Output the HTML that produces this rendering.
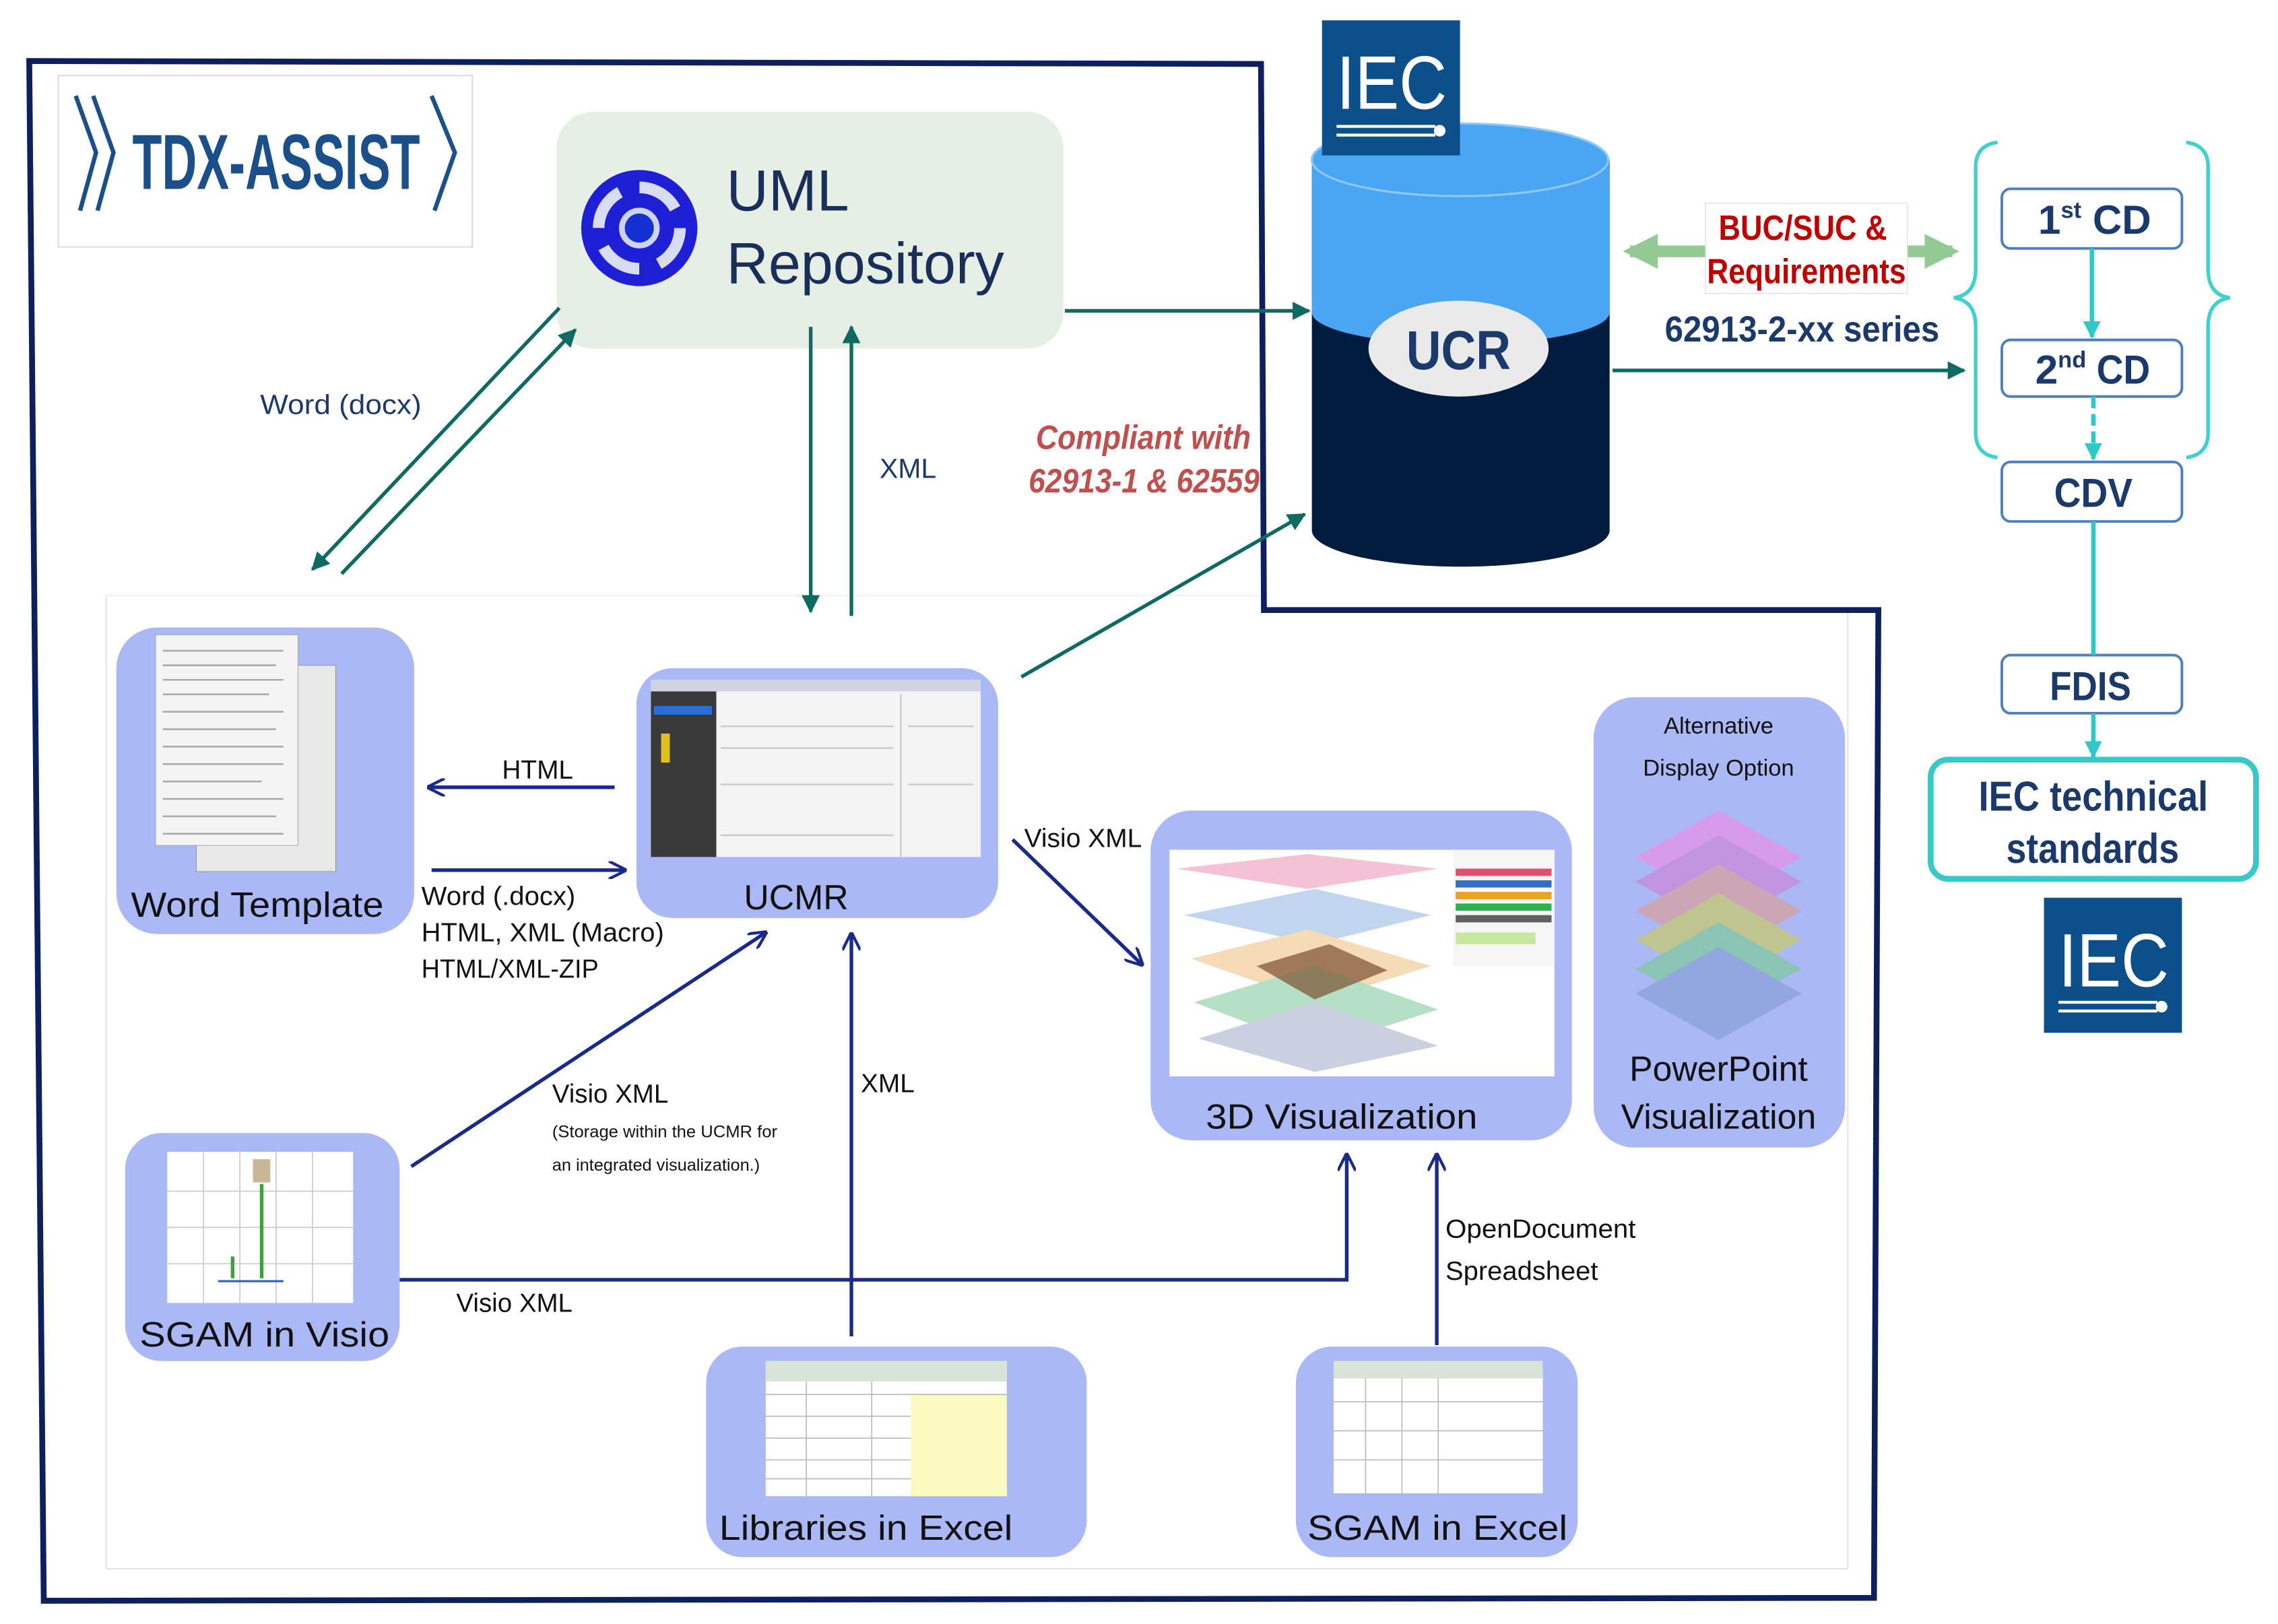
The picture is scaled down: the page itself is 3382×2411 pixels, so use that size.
<!DOCTYPE html>
<html><head><meta charset="utf-8">
<style>
html,body{margin:0;padding:0;background:#fff;}
svg{display:block;}
text{font-family:"Liberation Sans",Arial,sans-serif;}
.n{font-family:"Liberation Sans Narrow","Liberation Sans",sans-serif;}
</style></head>
<body>
<svg width="3382" height="2411" viewBox="0 0 1568 1118" xmlns="http://www.w3.org/2000/svg">
<defs>
<marker id="at" viewBox="0 0 10 10" refX="9" refY="5" markerWidth="5" markerHeight="5" orient="auto"><path d="M0,0L10,5L0,10z" fill="#0f6a62"/></marker>
<marker id="an" viewBox="0 0 10 10" refX="9" refY="5" markerWidth="5" markerHeight="5" orient="auto"><path d="M0,0L10,5L0,10" fill="none" stroke="#1a2a8a" stroke-width="1.6"/></marker>
<marker id="ac" viewBox="0 0 10 10" refX="9" refY="5" markerWidth="4" markerHeight="4" orient="auto"><path d="M0,0L10,5L0,10z" fill="#2ec8c8"/></marker>
<marker id="ag" viewBox="0 0 10 10" refX="8" refY="5" markerWidth="3" markerHeight="3" orient="auto-start-reverse"><path d="M0,0L10,5L0,10z" fill="#93c993"/></marker>
</defs>

<!-- faint inner frames -->
<rect x="40" y="52" width="285" height="118" fill="none" stroke="#ddd" stroke-width="1"/>
<line x1="73" y1="410" x2="73" y2="1080" stroke="#e4e4e4"/>
<line x1="73" y1="1080" x2="1272" y2="1080" stroke="#e4e4e4"/>
<line x1="1272" y1="420" x2="1272" y2="1080" stroke="#e4e4e4"/>
<line x1="73" y1="410" x2="870" y2="410" stroke="#f0f0f0"/>

<!-- outer border -->
<path d="M20,42 L868,44 L870,420 L1293,420 L1290,1100 L30,1102 Z" fill="none" stroke="#0d1f5c" stroke-width="4"/>

<!-- TDX logo -->
<g fill="none" stroke="#1b4f8a" stroke-width="3">
<path d="M52,66 L66,105 L55,145"/><path d="M64,66 L78,105 L67,145"/><path d="M297,66 L313,105 L299,145"/>
</g>
<text x="91" y="130" class="n" font-size="54" font-weight="bold" fill="#1b4f8a" textLength="198" lengthAdjust="spacingAndGlyphs">TDX-ASSIST</text>

<!-- UML repository -->
<rect x="383" y="77" width="349" height="163" rx="25" fill="#e6efe6"/>
<circle cx="440" cy="157" r="40" fill="#1f1fd6"/>
<circle cx="440" cy="157" r="28" fill="none" stroke="#d8dcef" stroke-width="8" stroke-dasharray="30 14"/>
<circle cx="440" cy="157" r="12" fill="#1530d0" stroke="#cfd4ee" stroke-width="4"/>
<text x="500" y="145" font-size="40" fill="#1a2e5a">UML</text>
<text x="500" y="195" font-size="40" fill="#1a2e5a">Repository</text>

<!-- cylinder -->
<path d="M903,110 L903,365 A102,25 0 0 0 1108,365 L1108,110 Z" fill="#021c3f"/>
<path d="M903,110 L903,215 A102,22 0 0 0 1108,215 L1108,110 Z" fill="#4aa6f2"/>
<ellipse cx="1005" cy="110" rx="102" ry="25" fill="#4aa6f2" stroke="#8cc8f8" stroke-width="1.5"/>
<ellipse cx="1004" cy="240" rx="62" ry="33" fill="#eaeaea"/>
<text x="968" y="254" class="n" font-size="38" font-weight="bold" fill="#1b3a6b" textLength="72" lengthAdjust="spacingAndGlyphs">UCR</text>

<!-- IEC logos -->
<rect x="910" y="14" width="95" height="93" fill="#0d4f8b"/>
<text x="920" y="75" class="n" font-size="52" fill="#fff" textLength="76" lengthAdjust="spacingAndGlyphs">IEC</text>
<line x1="920" y1="87" x2="988" y2="87" stroke="#fff" stroke-width="2"/><line x1="920" y1="93" x2="988" y2="93" stroke="#fff" stroke-width="2"/><circle cx="991" cy="90" r="4" fill="#fff"/>
<rect x="1407" y="618" width="95" height="93" fill="#0d4f8b"/>
<text x="1417" y="679" class="n" font-size="52" fill="#fff" textLength="76" lengthAdjust="spacingAndGlyphs">IEC</text>
<line x1="1417" y1="690" x2="1485" y2="690" stroke="#fff" stroke-width="2"/><line x1="1417" y1="696" x2="1485" y2="696" stroke="#fff" stroke-width="2"/><circle cx="1488" cy="693" r="4" fill="#fff"/>

<!-- green bidirectional -->
<line x1="1122" y1="173" x2="1344" y2="173" stroke="#93c993" stroke-width="8" marker-end="url(#ag)" marker-start="url(#ag)" />
<rect x="1174" y="140" width="139" height="62" fill="#fff" stroke="#e0e0e0" stroke-width="0.6"/>
<text x="1183" y="165" class="n" font-size="24" font-weight="bold" fill="#c00000" textLength="116" lengthAdjust="spacingAndGlyphs">BUC/SUC &amp;</text>
<text x="1175" y="195" class="n" font-size="24" font-weight="bold" fill="#c00000" textLength="137" lengthAdjust="spacingAndGlyphs">Requirements</text>
<text x="1146" y="235" class="n" font-size="25" font-weight="bold" fill="#1b3a6b" textLength="189" lengthAdjust="spacingAndGlyphs">62913-2-xx series</text>
<line x1="1110" y1="255" x2="1352" y2="255" stroke="#0f6a62" stroke-width="2.5" marker-end="url(#at)"/>
<line x1="733" y1="214" x2="901" y2="214" stroke="#0f6a62" stroke-width="2.5" marker-end="url(#at)"/>

<!-- braces -->
<g fill="none" stroke="#40d0d0" stroke-width="2.5">
<path d="M1375,98 Q1360,100 1360,115 L1360,185 Q1360,203 1345,205 Q1360,207 1360,225 L1360,298 Q1360,313 1375,315"/>
<path d="M1505,98 Q1520,100 1520,115 L1520,185 Q1520,203 1535,205 Q1520,207 1520,225 L1520,298 Q1520,313 1505,315"/>
</g>
<g fill="#fff" stroke="#4f7fbf" stroke-width="1.8">
<rect x="1378" y="130" width="124" height="41" rx="6"/>
<rect x="1378" y="234" width="124" height="39" rx="6"/>
<rect x="1378" y="318" width="124" height="41" rx="6"/>
<rect x="1378" y="451" width="124" height="40" rx="6"/>
</g>
<g class="n" font-size="28" font-weight="bold" fill="#1b3a6b">
<text x="1403" y="161">1<tspan font-size="16" dy="-11">st</tspan><tspan dy="11" textLength="48" lengthAdjust="spacingAndGlyphs"> CD</tspan></text>
<text x="1401" y="264">2<tspan font-size="16" dy="-11">nd</tspan><tspan dy="11" textLength="44" lengthAdjust="spacingAndGlyphs"> CD</tspan></text>
<text x="1414" y="349" textLength="54" lengthAdjust="spacingAndGlyphs">CDV</text>
<text x="1411" y="482" textLength="56" lengthAdjust="spacingAndGlyphs">FDIS</text>
</g>
<line x1="1440" y1="171" x2="1440" y2="232" stroke="#2ec8c8" stroke-width="3" marker-end="url(#ac)"/>
<line x1="1441" y1="273" x2="1441" y2="316" stroke="#2ec8c8" stroke-width="3" stroke-dasharray="8 4" marker-end="url(#ac)"/>
<line x1="1441" y1="359" x2="1441" y2="451" stroke="#2ec8c8" stroke-width="3"/>
<line x1="1441" y1="491" x2="1441" y2="521" stroke="#2ec8c8" stroke-width="3" marker-end="url(#ac)"/>
<rect x="1329" y="523" width="224" height="82" rx="12" fill="#fff" stroke="#38c8c8" stroke-width="4"/>
<text x="1362" y="558" class="n" font-size="29" font-weight="bold" fill="#1b3a6b" textLength="158" lengthAdjust="spacingAndGlyphs">IEC technical</text>
<text x="1381" y="594" class="n" font-size="29" font-weight="bold" fill="#1b3a6b" textLength="119" lengthAdjust="spacingAndGlyphs">standards</text>

<!-- Word docx arrows -->
<line x1="385" y1="212" x2="215" y2="392" stroke="#0f6a62" stroke-width="2.5" marker-end="url(#at)"/>
<line x1="235" y1="395" x2="396" y2="227" stroke="#0f6a62" stroke-width="2.5" marker-end="url(#at)"/>
<text x="179" y="285" font-size="19" fill="#1b3a6b" textLength="111" lengthAdjust="spacingAndGlyphs">Word (docx)</text>
<line x1="558" y1="225" x2="558" y2="421" stroke="#0f6a62" stroke-width="2.5" marker-end="url(#at)"/>
<line x1="586" y1="424" x2="586" y2="225" stroke="#0f6a62" stroke-width="2.5" marker-end="url(#at)"/>
<text x="625" y="329" text-anchor="middle" font-size="19" fill="#1b3a6b">XML</text>
<text x="713" y="309" class="n" font-size="23" font-weight="bold" font-style="italic" fill="#c0504d" textLength="148" lengthAdjust="spacingAndGlyphs">Compliant with</text>
<text x="708" y="339" class="n" font-size="23" font-weight="bold" font-style="italic" fill="#c0504d" textLength="159" lengthAdjust="spacingAndGlyphs">62913-1 &amp; 62559</text>
<line x1="703" y1="466" x2="898" y2="354" stroke="#0f6a62" stroke-width="2.5" marker-end="url(#at)"/>

<!-- Word Template -->
<rect x="80" y="432" width="205" height="211" rx="28" fill="#aab8f5"/>
<rect x="135" y="458" width="96" height="142" fill="#e8e8e8" stroke="#999" stroke-width="0.5"/>
<rect x="107" y="437" width="98" height="145" fill="#f4f4f4" stroke="#aaa" stroke-width="0.5"/>
<g stroke="#aaa" stroke-width="1.2"><line x1="112" y1="448" x2="195" y2="448"/><line x1="112" y1="458" x2="190" y2="458"/><line x1="112" y1="468" x2="195" y2="468"/><line x1="112" y1="478" x2="185" y2="478"/><line x1="112" y1="490" x2="195" y2="490"/><line x1="112" y1="502" x2="190" y2="502"/><line x1="112" y1="514" x2="195" y2="514"/><line x1="112" y1="526" x2="195" y2="526"/><line x1="112" y1="538" x2="180" y2="538"/><line x1="112" y1="550" x2="195" y2="550"/><line x1="112" y1="562" x2="190" y2="562"/><line x1="112" y1="574" x2="195" y2="574"/></g>
<text x="90" y="631" font-size="24" fill="#111" textLength="174" lengthAdjust="spacingAndGlyphs">Word Template</text>

<!-- UCMR -->
<rect x="438" y="460" width="249" height="172" rx="25" fill="#aab8f5"/>
<rect x="448" y="468" width="227" height="122" fill="#f3f3f3"/>
<rect x="448" y="468" width="227" height="8" fill="#d0d4e0"/>
<rect x="448" y="476" width="45" height="114" fill="#3a3a3a"/>
<rect x="450" y="486" width="40" height="6" fill="#2a6fd6"/>
<rect x="455" y="505" width="6" height="20" fill="#e0c020"/>
<g stroke="#c8c8c8" stroke-width="1"><line x1="496" y1="500" x2="615" y2="500"/><line x1="496" y1="515" x2="615" y2="515"/><line x1="496" y1="540" x2="615" y2="540"/><line x1="496" y1="575" x2="615" y2="575"/><line x1="620" y1="478" x2="620" y2="590"/><line x1="625" y1="500" x2="670" y2="500"/><line x1="625" y1="540" x2="670" y2="540"/></g>
<text x="548" y="626" text-anchor="middle" font-size="24" fill="#111">UCMR</text>

<line x1="423" y1="542" x2="295" y2="542" stroke="#1a2a8a" stroke-width="2.5" marker-end="url(#an)"/>
<text x="370" y="536" text-anchor="middle" font-size="18" fill="#111">HTML</text>
<line x1="297" y1="599" x2="430" y2="599" stroke="#1a2a8a" stroke-width="2.5" marker-end="url(#an)"/>
<text x="290" y="623" font-size="18" fill="#111" textLength="106" lengthAdjust="spacingAndGlyphs">Word (.docx)</text>
<text x="290" y="648" font-size="18" fill="#111" textLength="167" lengthAdjust="spacingAndGlyphs">HTML, XML (Macro)</text>
<text x="290" y="673" font-size="18" fill="#111" textLength="122" lengthAdjust="spacingAndGlyphs">HTML/XML-ZIP</text>

<!-- 3D visualization -->
<rect x="792" y="558" width="290" height="227" rx="28" fill="#aab8f5"/>
<rect x="805" y="585" width="265" height="156" fill="#fff"/>
<g opacity="0.65">
<polygon points="810,598 900,588 990,598 900,612" fill="#f0a0c0"/>
<polygon points="815,630 905,612 985,630 905,650" fill="#a0c0e8"/>
<polygon points="820,660 900,640 985,665 905,690" fill="#f0c890"/>
<polygon points="822,690 905,665 990,695 905,722" fill="#90d0a8"/>
<polygon points="825,715 905,690 990,720 905,738" fill="#b0b8d0"/>
</g>
<polygon points="865,665 915,650 955,668 905,688" fill="#7a5030" opacity="0.7"/>
<rect x="1000" y="585" width="70" height="80" fill="#f6f6f6"/>
<rect x="1002" y="598" width="66" height="5" fill="#e05070"/><rect x="1002" y="606" width="66" height="5" fill="#3070c0"/><rect x="1002" y="614" width="66" height="5" fill="#f0a020"/><rect x="1002" y="622" width="66" height="5" fill="#30b050"/><rect x="1002" y="630" width="66" height="5" fill="#606060"/><rect x="1002" y="642" width="55" height="8" fill="#c8e8a0"/>
<text x="830" y="777" font-size="24" fill="#111" textLength="187" lengthAdjust="spacingAndGlyphs">3D Visualization</text>

<!-- PowerPoint -->
<rect x="1097" y="480" width="173" height="310" rx="28" fill="#aab8f5"/>
<text x="1183" y="505" text-anchor="middle" font-size="16" fill="#111">Alternative</text>
<text x="1183" y="534" text-anchor="middle" font-size="16" fill="#111">Display Option</text>
<g opacity="0.75">
<polygon points="1183,558 1240,590 1183,622 1126,590" fill="#e890e8"/>
<polygon points="1183,575 1240,607 1183,639 1126,607" fill="#c888d8"/>
<polygon points="1183,595 1240,627 1183,659 1126,627" fill="#d8a0a0"/>
<polygon points="1183,615 1240,647 1183,679 1126,647" fill="#c8c870"/>
<polygon points="1183,635 1240,667 1183,699 1126,667" fill="#80c8a0"/>
<polygon points="1183,652 1240,684 1183,716 1126,684" fill="#8aa0d8"/>
</g>
<text x="1183" y="744" text-anchor="middle" font-size="24" fill="#111">PowerPoint</text>
<text x="1183" y="777" text-anchor="middle" font-size="24" fill="#111">Visualization</text>

<line x1="697" y1="578" x2="786" y2="664" stroke="#1a2a8a" stroke-width="2.5" marker-end="url(#an)"/>
<text x="705" y="583" font-size="18" fill="#111" textLength="81" lengthAdjust="spacingAndGlyphs">Visio XML</text>

<!-- SGAM in Visio -->
<rect x="86" y="780" width="189" height="157" rx="25" fill="#aab8f5"/>
<rect x="115" y="793" width="128" height="104" fill="#fff"/>
<g stroke="#ccc" stroke-width="0.8"><line x1="140" y1="793" x2="140" y2="897"/><line x1="165" y1="793" x2="165" y2="897"/><line x1="190" y1="793" x2="190" y2="897"/><line x1="215" y1="793" x2="215" y2="897"/><line x1="115" y1="820" x2="243" y2="820"/><line x1="115" y1="845" x2="243" y2="845"/><line x1="115" y1="870" x2="243" y2="870"/></g>
<rect x="174" y="798" width="12" height="16" fill="#c8b898"/>
<line x1="180" y1="815" x2="180" y2="880" stroke="#40a040" stroke-width="2.5"/>
<line x1="160" y1="865" x2="160" y2="880" stroke="#40a040" stroke-width="2.5"/>
<line x1="150" y1="882" x2="195" y2="882" stroke="#3060c0" stroke-width="1.5"/>
<text x="96" y="927" font-size="24" fill="#111" textLength="172" lengthAdjust="spacingAndGlyphs">SGAM  in Visio</text>

<line x1="283" y1="803" x2="527" y2="642" stroke="#1a2a8a" stroke-width="2.5" marker-end="url(#an)"/>
<text x="380" y="759" font-size="18" fill="#111" textLength="80" lengthAdjust="spacingAndGlyphs">Visio XML</text>
<text x="380" y="783" font-size="11.5" fill="#111" textLength="155" lengthAdjust="spacingAndGlyphs">(Storage within  the UCMR  for</text>
<text x="380" y="806" font-size="11.5" fill="#111" textLength="143" lengthAdjust="spacingAndGlyphs">an integrated  visualization.)</text>
<line x1="586" y1="920" x2="586" y2="643" stroke="#1a2a8a" stroke-width="2.5" marker-end="url(#an)"/>
<text x="611" y="752" text-anchor="middle" font-size="18" fill="#111">XML</text>
<polyline points="275,881 927,881 927,795" fill="none" stroke="#1a2a8a" stroke-width="2.5" marker-end="url(#an)"/>
<text x="314" y="903" font-size="18" fill="#111" textLength="80" lengthAdjust="spacingAndGlyphs">Visio XML</text>
<line x1="989" y1="926" x2="989" y2="795" stroke="#1a2a8a" stroke-width="2.5" marker-end="url(#an)"/>
<text x="995" y="852" font-size="18" fill="#111" textLength="131" lengthAdjust="spacingAndGlyphs">OpenDocument</text>
<text x="995" y="881" font-size="18" fill="#111" textLength="105" lengthAdjust="spacingAndGlyphs">Spreadsheet</text>

<!-- Libraries in Excel -->
<rect x="486" y="927" width="262" height="145" rx="25" fill="#aab8f5"/>
<rect x="527" y="937" width="166" height="93" fill="#fff"/>
<rect x="527" y="937" width="166" height="14" fill="#d8e4d8"/>
<rect x="627" y="960" width="66" height="70" fill="#fafac0"/>
<g stroke="#bbb" stroke-width="0.8"><line x1="527" y1="960" x2="693" y2="960"/><line x1="527" y1="975" x2="627" y2="975"/><line x1="527" y1="990" x2="627" y2="990"/><line x1="527" y1="1005" x2="627" y2="1005"/><line x1="527" y1="1018" x2="627" y2="1018"/><line x1="555" y1="951" x2="555" y2="1030"/><line x1="600" y1="951" x2="600" y2="1030"/></g>
<text x="495" y="1060" font-size="24" fill="#111" textLength="202" lengthAdjust="spacingAndGlyphs">Libraries in Excel</text>

<!-- SGAM in Excel -->
<rect x="892" y="927" width="194" height="145" rx="25" fill="#aab8f5"/>
<rect x="918" y="937" width="144" height="91" fill="#fff"/>
<rect x="918" y="937" width="144" height="12" fill="#d8e4d8"/>
<g stroke="#bbb" stroke-width="0.8"><line x1="940" y1="949" x2="940" y2="1028"/><line x1="965" y1="949" x2="965" y2="1028"/><line x1="990" y1="949" x2="990" y2="1028"/><line x1="918" y1="965" x2="1062" y2="965"/><line x1="918" y1="985" x2="1062" y2="985"/><line x1="918" y1="1005" x2="1062" y2="1005"/></g>
<text x="900" y="1060" font-size="24" fill="#111" textLength="179" lengthAdjust="spacingAndGlyphs">SGAM  in Excel</text>
</svg>
</body></html>
